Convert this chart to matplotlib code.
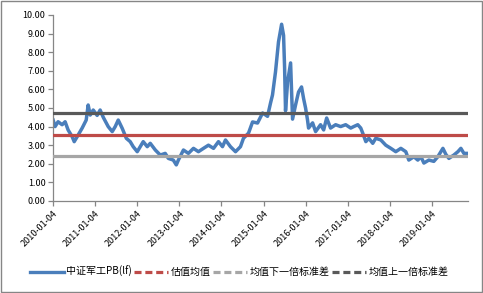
"""
中证军工 PB 估值通道图
"""
import pandas as pd
import matplotlib.pyplot as plt
from matplotlib.lines import Line2D
from matplotlib.patches import Rectangle

plt.rcParams['font.family'] = ['Noto Sans CJK SC', 'DejaVu Sans']

# 中证军工 PB(lf), values
dates = ['2010-01-04', '2010-01-21', '2010-02-16', '2010-03-23', '2010-04-18', '2010-05-14',
         '2010-06-18', '2010-07-06', '2010-08-01', '2010-09-13', '2010-10-18', '2010-11-04',
         '2010-11-22', '2010-12-18', '2011-01-21', '2011-02-16', '2011-03-15', '2011-04-27',
         '2011-06-01', '2011-06-27', '2011-07-23', '2011-08-27', '2011-10-01', '2011-11-04',
         '2011-11-30', '2012-01-04', '2012-01-30', '2012-02-25', '2012-03-31', '2012-04-26',
         '2012-06-09', '2012-07-22', '2012-09-03', '2012-09-30', '2012-11-12', '2012-12-08',
         '2012-12-26', '2013-02-08', '2013-03-23', '2013-05-06', '2013-06-18', '2013-08-01',
         '2013-09-13', '2013-10-27', '2013-12-09', '2014-01-13', '2014-02-08', '2014-03-23',
         '2014-05-06', '2014-06-18', '2014-07-14', '2014-08-27', '2014-10-01', '2014-11-13',
         '2014-12-27', '2015-02-08', '2015-03-06', '2015-03-23', '2015-04-18', '2015-05-14',
         '2015-06-10', '2015-06-27', '2015-07-06', '2015-07-14', '2015-08-01', '2015-08-27',
         '2015-09-13', '2015-10-09', '2015-11-04', '2015-11-30', '2015-12-18', '2016-01-04',
         '2016-01-21', '2016-01-30', '2016-03-05', '2016-03-31', '2016-05-13', '2016-06-09',
         '2016-07-05', '2016-08-08', '2016-09-21', '2016-11-03', '2016-12-17', '2017-01-30',
         '2017-02-25', '2017-04-01', '2017-04-27', '2017-05-14', '2017-06-10', '2017-07-06',
         '2017-08-09', '2017-09-04', '2017-10-18', '2017-11-30', '2018-01-13', '2018-02-25',
         '2018-04-10', '2018-05-23', '2018-06-18', '2018-08-01', '2018-09-04', '2018-10-01',
         '2018-10-27', '2018-12-09', '2019-01-21', '2019-02-25', '2019-04-10', '2019-05-06',
         '2019-06-01', '2019-07-14', '2019-08-18', '2019-09-13', '2019-10-09', '2019-11-13']
pb = [4.35, 4.00, 4.26, 4.10, 4.26, 3.82,
      3.46, 3.19, 3.46, 3.92, 4.35, 5.16,
      4.62, 4.89, 4.60, 4.89, 4.50, 4.00,
      3.73, 4.00, 4.35, 3.90, 3.37, 3.19,
      2.92, 2.65, 2.92, 3.19, 2.92, 3.10,
      2.74, 2.47, 2.56, 2.29, 2.20, 1.94,
      2.20, 2.74, 2.56, 2.83, 2.65, 2.83,
      3.00, 2.83, 3.19, 2.92, 3.28, 2.92,
      2.65, 2.92, 3.37, 3.65, 4.25, 4.19,
      4.73, 4.55, 5.27, 5.70, 6.94, 8.55,
      9.50, 8.90, 7.15, 4.85, 6.40, 7.42,
      4.40, 5.16, 5.86, 6.13, 5.50, 5.00,
      4.35, 3.92, 4.20, 3.73, 4.10, 3.82,
      4.46, 3.92, 4.10, 4.00, 4.10, 3.92,
      4.00, 4.10, 3.92, 3.65, 3.19, 3.37,
      3.10, 3.37, 3.28, 3.00, 2.83, 2.65,
      2.83, 2.65, 2.20, 2.38, 2.20, 2.38,
      2.04, 2.20, 2.13, 2.38, 2.83, 2.50,
      2.29, 2.47, 2.65, 2.83, 2.56, 2.56]

pb_mean = 3.55
pb_lower = 2.42   # 均值下一倍标准差
pb_upper = 4.73   # 均值上一倍标准差

tick_labels = ['2010-01-04', '2011-01-04', '2012-01-04', '2013-01-04', '2014-01-04',
               '2015-01-04', '2016-01-04', '2017-01-04', '2018-01-04', '2019-01-04']

x = pd.to_datetime(dates)
n = len(x)

fig = plt.figure(figsize=(4.83, 2.93), dpi=100)
ax = fig.add_axes([0.110, 0.314, 0.859, 0.635])

ax.plot(x, pb, color='#4A7EBB', lw=2.5, label='中证军工PB(lf)', zorder=2)
ax.plot(x, [pb_mean] * n, color='#BE4B48', lw=2.3, label='估值均值', zorder=3)
ax.plot(x, [pb_lower] * n, color='#A6A6A6', lw=2.3, label='均值下一倍标准差', zorder=3)
ax.plot(x, [pb_upper] * n, color='#595959', lw=2.3, label='均值上一倍标准差', zorder=3)

ax.set_xlim(pd.Timestamp('2010-01-04'), pd.Timestamp('2019-11-14'))
ax.set_ylim(0, 10)
ax.set_yticks(range(0, 11))
ax.yaxis.set_major_formatter(plt.FuncFormatter(lambda v, p: f'{v:.2f}'))
ax.set_xticks(pd.to_datetime(tick_labels))
ax.set_xticklabels(tick_labels, rotation=45, ha='right', rotation_mode='anchor')

for side in ['top', 'right']:
    ax.spines[side].set_visible(False)
for side in ['left', 'bottom']:
    ax.spines[side].set_color('#868686')
    ax.spines[side].set_linewidth(0.9)
ax.tick_params(axis='both', colors='#868686', labelcolor='black', labelsize=6.5,
               length=3.5, width=0.9, direction='out', pad=2)

# legend keys: dashed like the Excel legend
labels = ['中证军工PB(lf)', '估值均值', '均值下一倍标准差', '均值上一倍标准差']
keys = [Line2D([], [], color='#4A7EBB', lw=2.4),
        Line2D([], [], color='#BE4B48', lw=2.3, ls=(0, (2.2, 1.2))),
        Line2D([], [], color='#A6A6A6', lw=2.3, ls=(0, (2.2, 1.2))),
        Line2D([], [], color='#595959', lw=2.3, ls=(0, (2.2, 1.2)))]
fig.legend(keys, labels, loc='center', bbox_to_anchor=(0.495, 0.072), ncol=4,
           frameon=False, fontsize=7.2, handlelength=3.4, handletextpad=0.2,
           columnspacing=0.3, borderpad=0.2)

# outer chart border
fig.patches.append(Rectangle((0.002, 0.003), 0.995, 0.993, transform=fig.transFigure,
                             fill=False, edgecolor='#868686', lw=1.0))

plt.savefig('out.png', dpi=100)
plt.close()
